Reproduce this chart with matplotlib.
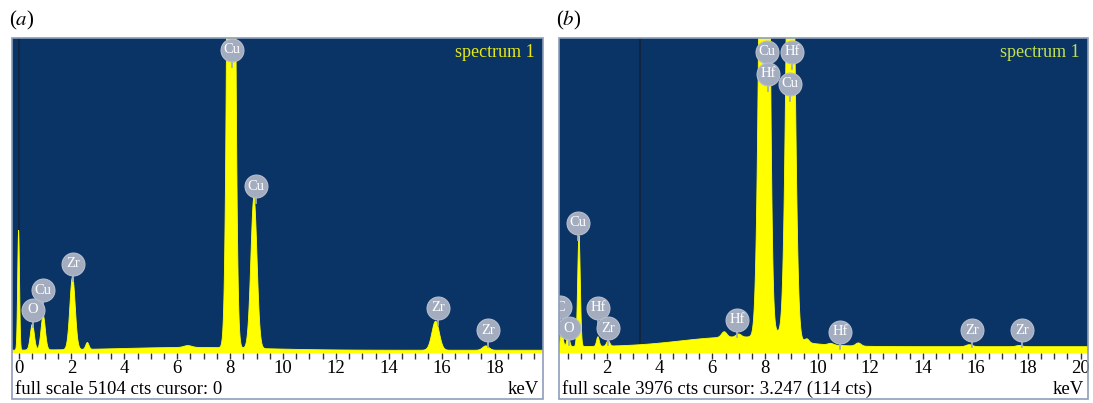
import numpy as np
import matplotlib
matplotlib.use("Agg")
import matplotlib.pyplot as plt
from matplotlib.patches import Rectangle
from matplotlib.ticker import MultipleLocator

plt.rcParams['font.family'] = ['Liberation Serif', 'DejaVu Serif']
plt.rcParams['mathtext.fontset'] = 'stix'

# ---------------- data ----------------
# panel (a): peaks (energy keV, counts, sigma keV)
a_peak_kev = [0.00, 0.52, 0.93, 2.04, 2.60, 6.40, 8.04, 8.90, 15.77, 17.67]
a_peak_cts = [1940, 420, 560, 1180, 110, 30, 19000, 2450, 470, 70]
a_peak_sig = [0.035, 0.075, 0.08, 0.10, 0.06, 0.15, 0.11, 0.115, 0.14, 0.12]
a_bg_const = 45
a_bg_hump = (6.5, 45, 2.6)
a_full_scale = 5104
a_cursor = 0.0
a_labels = ["Cu", "Cu", "Zr", "Cu", "O", "Zr", "Zr"]
a_label_kev = [8.07, 8.98, 2.06, 0.93, 0.55, 15.86, 17.75]
a_label_lvl = [0.962, 0.53, 0.283, 0.20, 0.137, 0.143, 0.073]

# panel (b)
b_peak_kev = [0.28, 0.52, 0.93, 1.65, 2.04, 6.45, 7.00, 7.90, 8.04, 8.50, 8.90, 9.02, 9.60, 10.50, 11.55, 15.77, 17.67]
b_peak_cts = [190, 150, 1400, 120, 70, 70, 40, 6000, 9000, 100, 3500, 5000, 45, 20, 40, 25, 15]
b_peak_sig = [0.05, 0.05, 0.05, 0.05, 0.06, 0.10, 0.10, 0.13, 0.12, 0.50, 0.12, 0.13, 0.08, 0.10, 0.10, 0.12, 0.12]
b_bg_const = 80
b_bg_hump = (6.8, 120, 2.0)
b_full_scale = 3976
b_cursor = 3.247
b_labels = ["Cu", "Hf", "Hf", "Cu", "Cu", "Hf", "Zr", "O", "C", "Hf", "Hf", "Zr", "Zr"]
b_label_kev = [8.08, 9.03, 8.11, 8.95, 0.89, 1.65, 2.03, 0.55, 0.20, 6.94, 10.85, 15.87, 17.78]
b_label_lvl = [0.956, 0.956, 0.886, 0.854, 0.413, 0.143, 0.079, 0.079, 0.146, 0.105, 0.067, 0.073, 0.073]

a_ticks = [0, 2, 4, 6, 8, 10, 12, 14, 16, 18]
b_ticks = [2, 4, 6, 8, 10, 12, 14, 16, 18, 20]

# ---------------- styling ----------------
W, H = 1093, 403
BG = '#0a3366'
YEL = '#ffff00'
LBL = '#a3adbf'
FRAME = '#8e9dba'


def spectrum(e, kev, cts, sig, const, hump):
    y = np.full_like(e, const, dtype=float)
    y += hump[1] * np.exp(-0.5 * ((e - hump[0]) / hump[2]) ** 2)
    for k, c, s in zip(kev, cts, sig):
        y += c * np.exp(-0.5 * ((e - k) / s) ** 2)
    return y


fig = plt.figure(figsize=(W / 100, H / 100), dpi=100)


def fx(px):
    return px / W


def fy(py):
    return (H - py) / H


def panel(left_px, right_px, xlim, kev, cts, sig, const, hump, fs, cursor,
          labels, lkev, llvl, ticks, letter, spec_color, info):
    ax = fig.add_axes([fx(left_px), fy(353), fx(right_px - left_px), (353 - 38) / H])
    ax.set_facecolor(BG)
    e = np.linspace(xlim[0] - 0.2, xlim[1] + 0.2, 6000)
    y = spectrum(e, kev, cts, sig, const, hump)
    ax.fill_between(e, 0, y, color=YEL, lw=0.6, ec=YEL, zorder=2)
    ax.axvline(cursor, color='#14243a', lw=1.2, zorder=1.5)
    ax.set_xlim(*xlim)
    ax.set_ylim(0, fs)
    ax.set_yticks([])
    ax.set_xticks(ticks)
    ax.xaxis.set_minor_locator(MultipleLocator(0.5))
    ax.tick_params(axis='x', which='both', direction='out', length=4, width=1,
                   color='#333333', pad=1, labelsize=13.5)
    for s in ax.spines.values():
        s.set_visible(False)
    for t, k, l in zip(labels, lkev, llvl):
        ax.plot([k, k], [l * fs, (l - 0.055) * fs], color=LBL, lw=1.3, zorder=4)
        ax.plot(k, l * fs, 'o', ms=16.5, mfc=LBL, mec='#b7bfcc', mew=0.8, zorder=5)
        ax.text(k, l * fs, t, color='white', fontsize=10.5, ha='center', va='center',
                zorder=6, clip_on=True)
    ax.text(0.985, 0.955, 'spectrum 1', transform=ax.transAxes, ha='right', va='center',
            color=spec_color, fontsize=13)
    # frame around panel
    fig.patches.append(Rectangle((fx(left_px), fy(399)), fx(right_px - left_px), (399 - 38) / H,
                                 transform=fig.transFigure, fill=False, ec=FRAME, lw=1.2))
    fig.text(fx(left_px + 3), fy(389), info, fontsize=13.5, ha='left', va='center')
    fig.text(fx(right_px - 4), fy(389), 'keV', fontsize=13.5, ha='right', va='center')
    fig.text(fx(left_px - 3), fy(20), letter, fontsize=15, ha='left', va='center')
    return ax


panel(12, 543, (-0.25, 19.83), a_peak_kev, a_peak_cts, a_peak_sig, a_bg_const, a_bg_hump,
      a_full_scale, a_cursor, a_labels, a_label_kev, a_label_lvl, a_ticks,
      r'($\mathit{a}$)', '#eaea10', 'full scale %d cts cursor: 0' % a_full_scale)
panel(559, 1088, (0.17, 20.28), b_peak_kev, b_peak_cts, b_peak_sig, b_bg_const, b_bg_hump,
      b_full_scale, b_cursor, b_labels, b_label_kev, b_label_lvl, b_ticks,
      r'($\mathit{b}$)', '#c4e250', 'full scale %d cts cursor: 3.247 (114 cts)' % b_full_scale)

fig.savefig('out.png', dpi=100)
